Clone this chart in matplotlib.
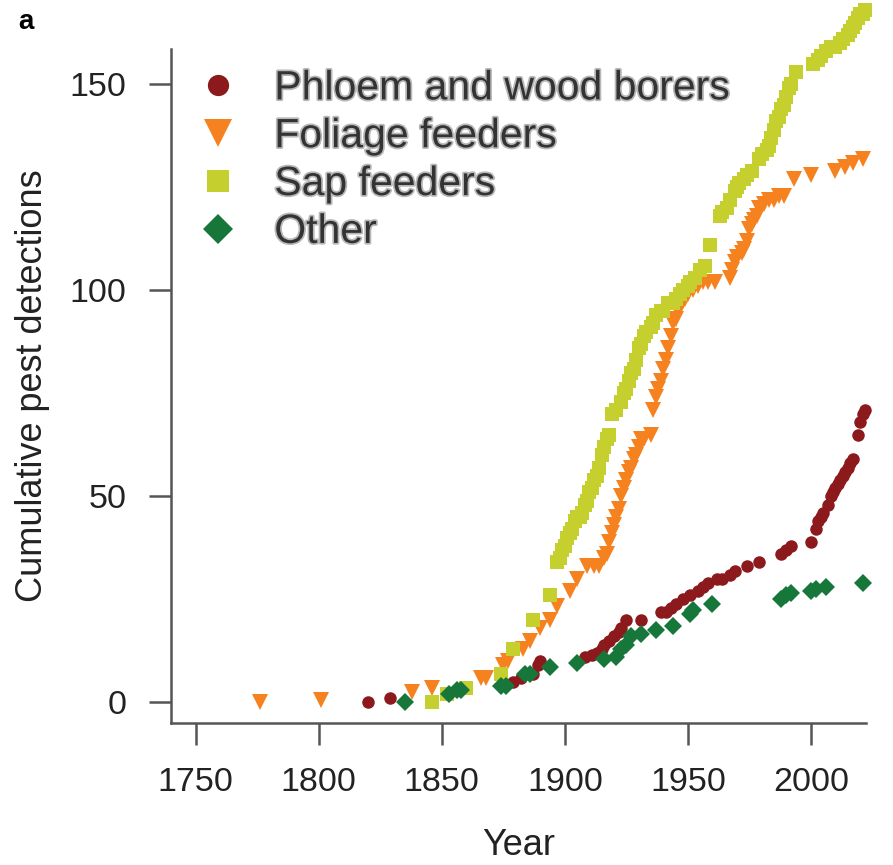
import matplotlib
matplotlib.use("Agg")
import matplotlib.pyplot as plt
import matplotlib.patheffects as pe

# ---------------- data ----------------
phloem_years = [1820, 1829, 1879, 1882, 1887, 1889, 1890, 1908, 1911, 1913, 1915, 1916,
                1918, 1920, 1922, 1923, 1925, 1931, 1939, 1941, 1943, 1945, 1948, 1951,
                1954, 1956, 1958, 1962, 1964, 1967, 1969, 1974, 1979, 1988, 1990, 1992,
                2000, 2002, 2003, 2004, 2005, 2007, 2008, 2009, 2010, 2011, 2012, 2013,
                2014, 2015, 2016, 2017, 2019, 2020, 2021, 2022]
phloem_counts = [0, 1, 5, 6, 7, 9, 10, 11, 11.5, 12, 13, 14,
                 15, 16, 17, 18, 20, 20, 22, 22, 23, 24, 25, 26,
                 27, 28, 29, 30, 30, 31, 32, 33, 34, 36, 37, 38,
                 39, 42, 44, 45, 46, 48, 50, 51, 52, 53, 54, 55,
                 56, 57, 58, 59, 65, 68, 70, 71]

foliage_years = [1776, 1801, 1838, 1846, 1866, 1868, 1875, 1877, 1883, 1886, 1890, 1894,
                 1897, 1902, 1905, 1909, 1912, 1914, 1916, 1917, 1918, 1919, 1920, 1921,
                 1922, 1923, 1924, 1925, 1926, 1927, 1928, 1929, 1930, 1931, 1932, 1935,
                 1936, 1937, 1938, 1939, 1940, 1941, 1942, 1943, 1944, 1945, 1946, 1947,
                 1949, 1950, 1952, 1954, 1956, 1958, 1961, 1967, 1968, 1969, 1970, 1972,
                 1973, 1974, 1975, 1976, 1977, 1978, 1979, 1981, 1983, 1985, 1987, 1989,
                 1993, 2000, 2010, 2014, 2017, 2021]
foliage_counts = [0, 0.5, 2.5, 3.5, 6, 6, 9, 10, 13, 15, 18, 20,
                  23.5, 27, 30, 33, 33, 33, 35, 36, 39, 41, 43, 45,
                  47, 50, 52, 54, 56, 57, 59, 60, 62, 64, 64, 65,
                  71, 74, 76, 78, 81, 83, 86, 89, 92, 93, 95, 96,
                  98, 99, 100, 101, 102, 102, 102, 103, 105, 107, 108, 109,
                  110, 112, 115, 116, 117, 118, 120, 121, 122, 122, 123, 123,
                  127, 128, 129, 130, 131, 132]

sap_years = [1846, 1852, 1860, 1874, 1879, 1887, 1894, 1897, 1898, 1899, 1900, 1901,
             1902, 1903, 1904, 1905, 1906, 1907, 1908, 1909, 1910, 1911, 1912, 1913,
             1914, 1915, 1916, 1917, 1918, 1919, 1921, 1923, 1924, 1925, 1926, 1927,
             1928, 1929, 1930, 1931, 1932, 1933, 1935, 1936, 1937, 1939, 1940, 1942,
             1944, 1945, 1947, 1948, 1950, 1951, 1953, 1955, 1957, 1959, 1963, 1964,
             1966, 1967, 1969, 1970, 1971, 1973, 1974, 1976, 1979, 1980, 1982, 1983,
             1984, 1985, 1986, 1987, 1988, 1989, 1990, 1991, 1992, 1994, 2001, 2003,
             2004, 2006, 2008, 2010, 2012, 2013, 2015, 2016, 2017, 2018, 2019, 2020,
             2021, 2022]
sap_counts = [0, 2, 3.5, 7, 13, 20, 26, 34, 35, 37, 38, 40,
              41, 42, 44, 45, 45, 46, 48, 49, 51, 52, 54, 55,
              57, 60, 62, 64, 65, 70, 71, 73, 75, 76, 78, 80,
              81, 83, 86, 87, 89, 90, 91, 92, 94, 95, 95, 97,
              97, 98, 99, 100, 101, 102, 103, 105, 106, 111, 118, 119,
              120, 122, 124, 125, 126, 127, 128, 129, 132, 133, 134, 135,
              137, 139, 141, 142, 144, 145, 147, 149, 150, 153, 155, 156,
              157, 158, 159, 159, 160, 161, 162, 163, 164, 165, 166, 167,
              167, 168]

other_years = [1835, 1853, 1856, 1858, 1874, 1876, 1884, 1886, 1894, 1905, 1916, 1921,
               1923, 1925, 1927, 1931, 1937, 1944, 1951, 1952, 1960, 1988, 1990, 1992,
               2000, 2002, 2006, 2021]
other_counts = [0, 2, 3, 3, 4, 4, 7, 7, 8.5, 9.5, 10.5, 11,
                13, 14, 16, 16.5, 17.5, 18.5, 21.5, 22.5, 24, 25, 26, 26.5,
                27, 27.5, 28, 29]

labels = ["Phloem and wood borers", "Foliage feeders", "Sap feeders", "Other"]
colors = ["#8c1a1c", "#f5821f", "#c5d02e", "#17773a"]
x_ticks = [1750, 1800, 1850, 1900, 1950, 2000]
y_ticks = [0, 50, 100, 150]

# ---------------- figure ----------------
plt.rcParams["font.family"] = ["Liberation Sans", "DejaVu Sans"]
fig = plt.figure(figsize=(8.93, 8.65), dpi=100)
W, H = 893, 865
left, right, top, bottom = 170.7, 865.7, 48.5, 723
ax = fig.add_axes([left / W, 1 - bottom / H, (right - left) / W, (bottom - top) / H])

series = [
    (phloem_years, phloem_counts, "o", 9.0),
    (foliage_years, foliage_counts, "v", 11.5),
    (sap_years, sap_counts, "s", 9.5),
    (other_years, other_counts, "D", 9.0),
]
for (xs, ys, mk, ms), lab, col in zip(series, labels, colors):
    ax.plot(xs, ys, linestyle="none", marker=mk, ms=ms, color=col,
            markeredgewidth=0, label=lab, clip_on=False, zorder=3)

ax.set_xlim(1739.8, 2022.3)
ax.set_ylim(-5.0, 158.7)
ax.set_xticks(x_ticks)
ax.set_yticks(y_ticks)
for s in ["top", "right"]:
    ax.spines[s].set_visible(False)
for s in ["left", "bottom"]:
    ax.spines[s].set_color("#555555")
    ax.spines[s].set_linewidth(1.8)
ax.tick_params(axis="both", direction="out", length=16, width=1.8, color="#555555",
               labelsize=24.5, labelcolor="#222222", pad=16)

ax.set_xlabel("Year", fontsize=26, color="#222222", labelpad=21)
ax.set_ylabel("Cumulative pest detections", fontsize=26, color="#222222", labelpad=14)

leg = ax.legend(loc="upper left", bbox_to_anchor=(0.04, 0.969), frameon=False,
                fontsize=29.5, handlelength=0.95, handletextpad=0.9, labelspacing=0.24,
                borderaxespad=0, borderpad=0, markerscale=1.7)
for t in leg.get_texts():
    t.set_color("#333333")
    t.set_path_effects([pe.withStroke(linewidth=2.5, foreground="#b8b8b8")])

fig.text(18 / W, 1 - 22 / H, "a", fontsize=20, fontweight="bold", va="center", ha="left")

fig.savefig("out.png", dpi=100)
